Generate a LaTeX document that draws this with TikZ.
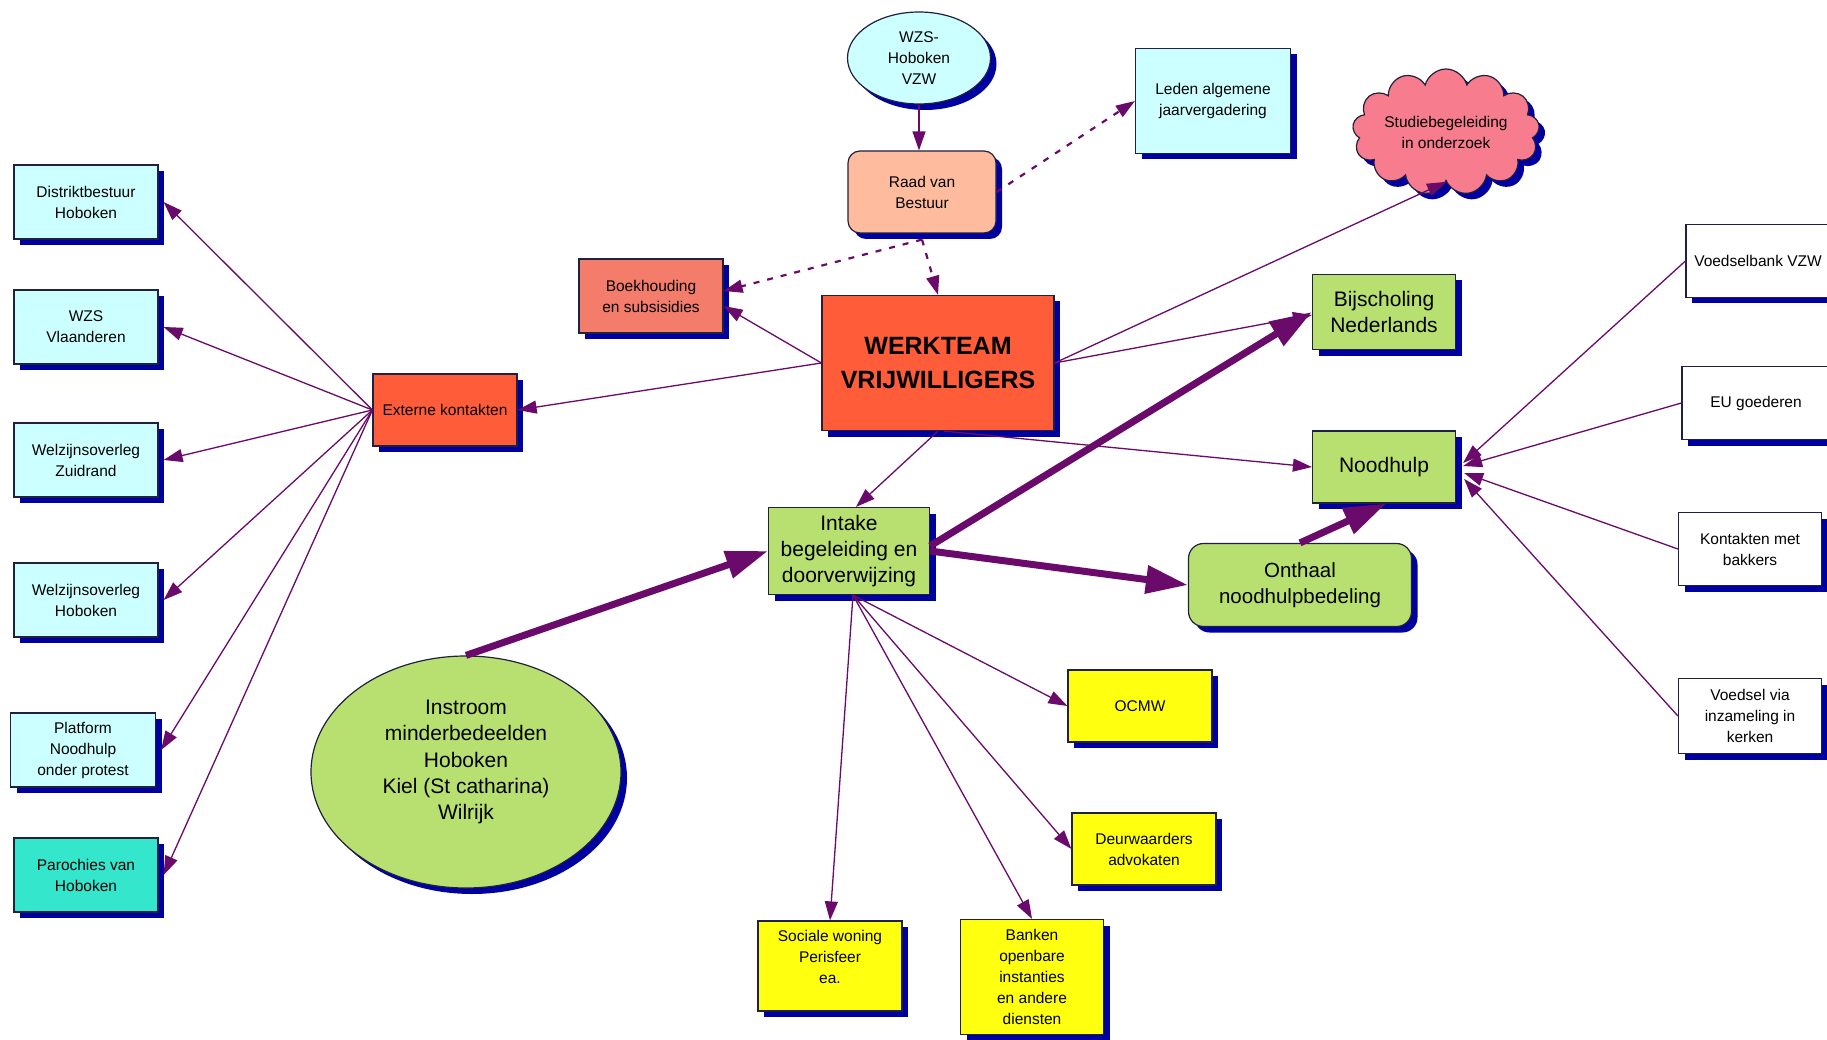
\documentclass[tikz,border=0pt]{standalone}
\usepackage{fontspec}
\setmainfont{Liberation Sans}
\usetikzlibrary{shapes.geometric,shapes.symbols,shadows,arrows.meta}
\definecolor{cyanbox}{HTML}{CCFFFF}
\definecolor{turq}{HTML}{33E6CC}
\definecolor{redbox}{HTML}{FF5C3A}
\definecolor{salmonbox}{HTML}{F47C6A}
\definecolor{peachbox}{HTML}{FFBB9E}
\definecolor{greenbox}{HTML}{B8E070}
\definecolor{yelbox}{HTML}{FFFF10}
\definecolor{pinkc}{HTML}{F77C8E}
\definecolor{shad}{HTML}{0000A0}
\definecolor{arr}{HTML}{6A0A6A}
\definecolor{edgec}{HTML}{202040}
\begin{document}
\begin{tikzpicture}[x=1pt,y=-1pt,
  base/.style={draw=edgec, line width=1.2pt, align=center, inner sep=0pt, text=black,
     general shadow={fill=shad, shadow xshift=6pt, shadow yshift=-6pt}},
  smallbox/.style={base, rectangle, minimum width=144pt, minimum height=74pt,
     font=\fontsize{15.5}{21}\selectfont},
  greenrect/.style={base, rectangle, fill=greenbox, font=\fontsize{21}{26}\selectfont},
  conn/.style={draw=arr, line width=1.3pt, -{Triangle[length=19pt 0,width=13pt 0]}},
  dasharrow/.style={conn, line width=2.2pt, dash pattern=on 6pt off 8pt},
  bigarrow/.style={draw=arr, line width=7pt, -{Triangle[length=42pt 0,width=27pt 0]}}
]
\useasboundingbox (0,0) rectangle (1827,1040);
\clip (0,0) rectangle (1827,1040);
\fill[white] (0,0) rectangle (1827,1040);

% top
\node[base, ellipse, fill=cyanbox, minimum width=143pt, minimum height=92pt,
  font=\fontsize{15.5}{21}\selectfont] (wzs) at (919,58) {WZS-\\Hoboken\\VZW};
\node[smallbox, rounded corners=12pt, fill=peachbox, minimum width=148pt, minimum height=82pt] (raad) at (922,192) {Raad van\\Bestuur};
\node[smallbox, fill=cyanbox, minimum width=155pt, minimum height=105pt] (leden) at (1213,101) {Leden algemene\\jaarvergadering};
\node[base, cloud, cloud puffs=13, aspect=1.8, fill=pinkc, minimum width=172pt, minimum height=96pt,
  font=\fontsize{15.5}{21}\selectfont] (cloud) at (1446,132) {Studiebegeleiding\\in onderzoek};
\node[smallbox, fill=salmonbox] (boek) at (651,296) {Boekhouding\\en subsisidies};
\node[base, rectangle, fill=redbox, minimum width=232pt, minimum height=135pt,
  font=\fontsize{25}{34}\selectfont\bfseries] (werk) at (938,363) {WERKTEAM\\VRIJWILLIGERS};
\node[smallbox, fill=redbox, minimum height=72pt] (ext) at (445,410) {Externe kontakten};

% left column
\node[smallbox, fill=cyanbox] (dist) at (86,202) {Distriktbestuur\\Hoboken};
\node[smallbox, fill=cyanbox] (vla) at (86,327) {WZS\\Vlaanderen};
\node[smallbox, fill=cyanbox] (zuid) at (86,460) {Welzijnsoverleg\\Zuidrand};
\node[smallbox, fill=cyanbox] (wobo) at (86,600) {Welzijnsoverleg\\Hoboken};
\node[smallbox, fill=cyanbox, minimum width=145pt] (plat) at (83,750) {Platform\\Noodhulp\\onder protest};
\node[smallbox, fill=turq] (paro) at (86,875) {Parochies van\\Hoboken};

% green
\node[greenrect, minimum width=143pt, minimum height=75pt] (bijs) at (1384,312) {Bijscholing\\Nederlands};
\node[greenrect, minimum width=143pt, minimum height=72pt] (nood) at (1384,467) {Noodhulp};
\node[greenrect, minimum width=161pt, minimum height=87pt] (intake) at (849,551) {Intake\\begeleiding en\\doorverwijzing};
\node[greenrect, rounded corners=15pt, minimum width=223pt, minimum height=83pt,
  font=\fontsize{20.5}{26}\selectfont] (onth) at (1300,585) {Onthaal\\noodhulpbedeling};
\node[base, ellipse, fill=greenbox, minimum width=310pt, minimum height=232pt,
  font=\fontsize{21}{26.3}\selectfont] (instr) at (466,772) {Instroom\\minderbedeelden\\Hoboken\\Kiel (St catharina)\\Wilrijk\\[-2pt]\mbox{}};

% yellow
\node[smallbox, fill=yelbox, minimum height=72pt] (ocmw) at (1140,706) {OCMW};
\node[smallbox, fill=yelbox, minimum height=72pt] (deur) at (1144,849) {Deurwaarders\\advokaten};
\node[smallbox, fill=yelbox, minimum height=90pt] (soc) at (830,966) {Sociale woning\\Perisfeer\\ea.\\[-3pt]\mbox{}};
\node[smallbox, fill=yelbox, minimum width=143pt, minimum height=115pt] (bank) at (1032,977) {Banken\\openbare\\instanties\\en andere\\diensten};

% right column
\node[smallbox, fill=white, minimum height=73pt] (voedb) at (1758,261) {Voedselbank VZW};
\node[smallbox, fill=white, minimum width=148pt, minimum height=73pt] (eu) at (1756,403) {EU goederen};
\node[smallbox, fill=white, minimum width=143pt, minimum height=73pt] (kont) at (1750,549) {Kontakten met\\bakkers};
\node[smallbox, fill=white, minimum width=143pt, minimum height=75pt] (voeds) at (1750,716) {Voedsel via\\inzameling in\\kerken};

% connectors
\draw[conn] (wzs.south) -- (wzs.south |- raad.north);
\draw[dasharrow] (raad.east) -- (leden.west);
\draw[dasharrow] ([yshift=-6pt]raad.south) -- ([yshift=5pt]boek.east);
\draw[dasharrow] ([yshift=-6pt]raad.south) -- (werk.north);
\draw[conn] (werk.west) -- ([yshift=-10pt]boek.east);
\draw[conn] (werk.west) -- (ext.east);
\draw[conn] (werk.east) -- (cloud.south);
\draw[conn] (werk.east) -- ([yshift=-3pt]bijs.west);
\draw[conn] ([xshift=6pt]werk.south) -- (nood.west);
\draw[conn] (werk.south) -- ([xshift=7pt]intake.north);

\foreach \t in {dist,vla,zuid,wobo,plat,paro}
  \draw[conn] (ext.west) -- ([xshift=5pt]\t.east);

\draw[bigarrow] (instr.north) -- (intake.west);
\draw[bigarrow] ([yshift=5pt]intake.east) -- (bijs.west);
\draw[bigarrow] (intake.east) -- (onth.west);
\draw[bigarrow] (onth.north) -- ([xshift=2pt]nood.south);

\draw[conn] ([xshift=4pt]intake.south) -- (ocmw.west);
\draw[conn] ([xshift=4pt]intake.south) -- (deur.west);
\draw[conn] ([xshift=4pt]intake.south) -- (bank.north);
\draw[conn] ([xshift=4pt]intake.south) -- (soc.north);

\draw[conn] (voedb.west) -- ([xshift=7pt,yshift=4pt]nood.east);
\draw[conn] (eu.west) -- ([xshift=7pt,yshift=1pt]nood.east);
\draw[conn] (kont.west) -- ([xshift=8pt,yshift=-6pt]nood.east);
\draw[conn] (voeds.west) -- ([xshift=8pt,yshift=-12pt]nood.east);
\end{tikzpicture}
\end{document}
